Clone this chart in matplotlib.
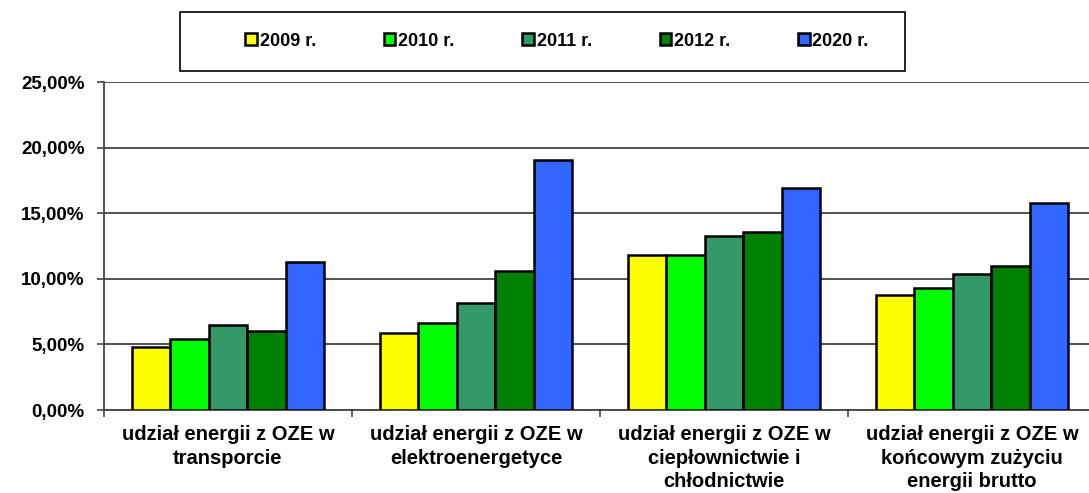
import matplotlib
matplotlib.use('Agg')
from matplotlib import pyplot as plt
from matplotlib.patches import Rectangle
from matplotlib.ticker import FuncFormatter, FixedLocator
import numpy as np

plt.rcParams['font.family'] = ['Liberation Sans', 'DejaVu Sans']
plt.rcParams['font.weight'] = 'bold'

# categories and series (share in %)
categories = ["udział energii z OZE w\ntransporcie",
              "udział energii z OZE w\nelektroenergetyce",
              "udział energii z OZE w\nciepłownictwie i\nchłodnictwie",
              "udział energii z OZE w\nkońcowym zużyciu\nenergii brutto"]
series_names = ["2009 r.", "2010 r.", "2011 r.", "2012 r.", "2020 r."]
v2009 = [4.8, 5.85, 11.85, 8.8]
v2010 = [5.4, 6.6, 11.8, 9.3]
v2011 = [6.45, 8.15, 13.3, 10.4]
v2012 = [6.05, 10.6, 13.6, 10.95]
v2020 = [11.3, 19.05, 16.95, 15.75]
colors = ["#FFFF00", "#00FF00", "#339966", "#008000", "#3366FF"]

all_vals = [v2009, v2010, v2011, v2012, v2020]

fig = plt.figure(figsize=(10.89, 4.93), dpi=100)
ax = fig.add_axes([104/1089, 83/493, 992/1089, 328/493])

x = np.arange(len(categories))
w = 0.155
for i, (vals, name, c) in enumerate(zip(all_vals, series_names, colors)):
    ax.bar(x + (i - 2) * w, vals, width=w, color=c, edgecolor='black',
           linewidth=1.8, label=name, zorder=3)

ax.set_ylim(0, 25)
ax.set_xlim(-0.5, len(categories) - 0.5)
ax.set_yticks([0, 5, 10, 15, 20, 25])
ax.yaxis.set_major_formatter(FuncFormatter(lambda v, p: f"{v:.2f}".replace('.', ',') + "%"))
ax.grid(axis='y', color='#444444', linewidth=1.3, zorder=0)

# category boundaries as major ticks, names as minor ticks
ax.xaxis.set_major_locator(FixedLocator(np.arange(-0.5, len(categories), 1.0)))
ax.xaxis.set_major_formatter(FuncFormatter(lambda v, p: ""))
ax.xaxis.set_minor_locator(FixedLocator(x))
ax.set_xticklabels(categories, minor=True, linespacing=1.3)
ax.tick_params(axis='x', which='minor', length=0, pad=11, labelsize=14.5)
ax.tick_params(axis='x', which='major', length=5, width=1.2, color='#444444')
ax.tick_params(axis='y', length=5, width=1.2, color='#444444', pad=9, labelsize=13.5)

for s in ['top', 'right']:
    ax.spines[s].set_visible(False)
ax.spines['left'].set_color('#444444')
ax.spines['left'].set_linewidth(1.3)
ax.spines['bottom'].set_color('#444444')
ax.spines['bottom'].set_linewidth(1.3)

# legend with framed box
fig.patches.append(Rectangle((180/1089, 1 - 71/493), 725/1089, 59/493,
                             transform=fig.transFigure, fill=False,
                             edgecolor='black', linewidth=1.2))
fig.legend(loc='center', bbox_to_anchor=(557/1089, 1 - 41/493), ncol=5,
           frameon=False, fontsize=13, handlelength=0.65, handleheight=0.65,
           handletextpad=0.15, columnspacing=3.75)

plt.savefig('out.png', dpi=100)
